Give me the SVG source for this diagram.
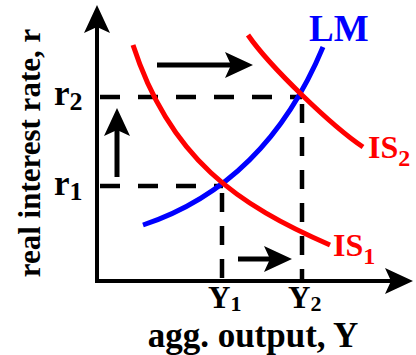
<svg xmlns="http://www.w3.org/2000/svg" width="416" height="355" viewBox="0 0 416 355">
<style>
text{font-family:"Liberation Serif","Times New Roman",serif;font-weight:bold}
.ax{stroke:#000;stroke-width:4;fill:none}
.arr{stroke:#000;stroke-width:5;fill:none}
.dash{stroke:#000;stroke-width:4.5;fill:none}
.is{stroke:#ff0000;stroke-width:5;fill:none}
.lm{stroke:#0000ff;stroke-width:5;fill:none}
.red{fill:#ff0000}
.blue{fill:#0000ff}
</style>
<defs>
<marker id="ah" markerUnits="userSpaceOnUse" viewBox="0 0 28 26" markerWidth="28" markerHeight="26" refX="6" refY="13" orient="auto">
<path d="M0,0 L28,13 L0,26 L6,13 Z" fill="#000"/>
</marker>
</defs>
<g id="axes">
<path class="ax" d="M97,283 V27" marker-end="url(#ah)"/>
<path class="ax" d="M95,281 H391" marker-end="url(#ah)"/>
</g>
<g id="connectors">
<path class="dash" d="M100,97 H302" stroke-dasharray="20 18"/>
<path class="dash" d="M100,186 H223" stroke-dasharray="20 18"/>
<path class="dash" d="M302,104 V281" stroke-dasharray="19 14"/>
<path class="dash" d="M222,193 V281" stroke-dasharray="19 14"/>
<path class="arr" d="M157,65 H231" marker-end="url(#ah)"/>
<path class="arr" d="M117,177 V130" marker-end="url(#ah)"/>
<path class="arr" d="M238,259 H270" marker-end="url(#ah)"/>
</g>
<g id="LM">
<path class="lm" d="M143,225 C248,190 298,107 323,47"/>
<text class="blue" x="309" y="41" font-size="37">LM</text>
</g>
<g id="IS1">
<path class="is" d="M133,45 C170,159 238,205 330,245"/>
<text class="red" x="333" y="256" font-size="32">IS<tspan font-size="24" dy="8">1</tspan></text>
</g>
<g id="IS2">
<path class="is" d="M248,35 C270,67 333,127 363,147"/>
<text class="red" x="368" y="158" font-size="32">IS<tspan font-size="24" dy="8">2</tspan></text>
</g>
<g id="labels">
<text x="40" y="153" font-size="31" text-anchor="middle" transform="rotate(-90 40 153)">real interest rate, r</text>
<text x="54" y="105" font-size="35">r<tspan font-size="26" dy="5">2</tspan></text>
<text x="54" y="195" font-size="35">r<tspan font-size="26" dy="5">1</tspan></text>
<text x="208" y="308" font-size="31">Y<tspan font-size="22" dy="3">1</tspan></text>
<text x="288" y="308" font-size="31">Y<tspan font-size="22" dy="3">2</tspan></text>
<text x="253" y="347" font-size="35" text-anchor="middle">agg. output, Y</text>
</g>
</svg>
